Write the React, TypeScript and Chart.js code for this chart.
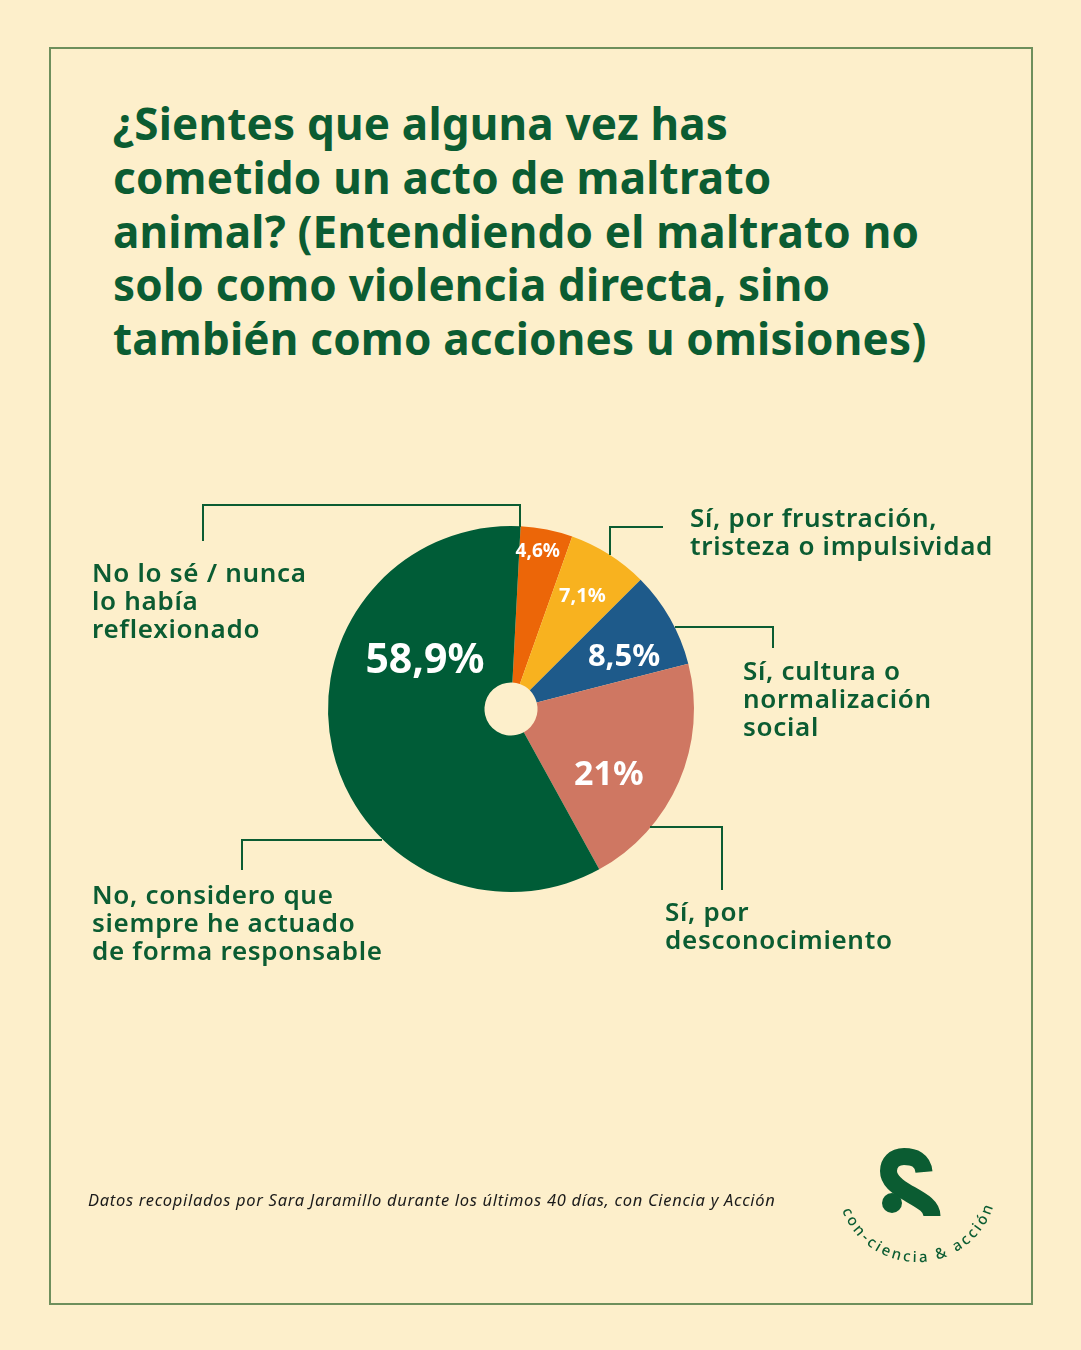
import React, { useEffect, useRef } from "react";
import { Chart, registerables } from "chart.js";

Chart.register(...registerables);

// Survey answers, in drawing order (clockwise from the top)
const categories: string[][] = [
  ["No lo sé / nunca", "lo había", "reflexionado"],
  ["Sí, por frustración,", "tristeza o impulsividad"],
  ["Sí, cultura o", "normalización", "social"],
  ["Sí, por", "desconocimiento"],
  ["No, considero que", "siempre he actuado", "de forma responsable"],
];

// Share of respondents (%)
const values: number[] = [4.6, 7.1, 8.5, 21, 58.9];

const sliceColors: string[] = ["#EC6608", "#F8B21F", "#1E5A8A", "#CF7762", "#005C37"];

const titleLines: string[] = [
  "¿Sientes que alguna vez has",
  "cometido un acto de maltrato",
  "animal? (Entendiendo el maltrato no",
  "solo como violencia directa, sino",
  "también como acciones u omisiones)",
];

const footnote =
  "Datos recopilados por Sara Jaramillo durante los últimos 40 días, con Ciencia y Acción";

const GREEN = "#0B5C32";
const BG = "#FDEFCB";

// Where each percentage sits inside its slice: fraction along the arc, fraction of the radius, font size
const valueLabelStyle = [
  { along: 0.4, radius: 0.875, size: 19 },
  { along: 0.5, radius: 0.73, size: 20 },
  { along: 0.66, radius: 0.68, size: 31 },
  { along: 0.64, radius: 0.645, size: 34 },
  { along: 0.698, radius: 0.538, size: 41 },
];

// Connector polylines, as offsets from the pie centre
const leaderPaths: number[][][] = [
  [[9, -182], [9, -204], [-308, -204], [-308, -168]],
  [[99, -154], [99, -182], [152, -182]],
  [[164, -82], [262, -82], [262, -61]],
  [[139, 118], [211, 118], [211, 181]],
  [[-129, 131], [-269, 131], [-269, 161]],
];

// Answer text blocks
const answerBoxes = [
  { left: 92, top: 558 },
  { left: 690, top: 503 },
  { left: 743, top: 656 },
  { left: 665, top: 897 },
  { left: 92, top: 880 },
];

const formatPct = (v: number) => `${String(v).replace(".", ",")}%`;

const leaderPlugin = {
  id: "leaders",
  afterDatasetsDraw(chart: any) {
    const arc = chart.getDatasetMeta(0).data[0];
    if (!arc) return;
    const { x, y } = arc.getProps(["x", "y"], true);
    const ctx = chart.ctx;
    ctx.save();
    ctx.strokeStyle = GREEN;
    ctx.lineWidth = 2;
    ctx.lineJoin = "miter";
    leaderPaths.forEach((pts) => {
      ctx.beginPath();
      pts.forEach(([dx, dy], i) => {
        if (i === 0) ctx.moveTo(x + dx, y + dy);
        else ctx.lineTo(x + dx, y + dy);
      });
      ctx.stroke();
    });
    ctx.restore();
  },
};

const valueLabelPlugin = {
  id: "valueLabels",
  afterDatasetsDraw(chart: any) {
    const meta = chart.getDatasetMeta(0);
    const ctx = chart.ctx;
    ctx.save();
    ctx.fillStyle = "#FFFFFF";
    ctx.textAlign = "center";
    ctx.textBaseline = "middle";
    meta.data.forEach((el: any, i: number) => {
      const p = el.getProps(["x", "y", "startAngle", "endAngle", "outerRadius"], true);
      const s = valueLabelStyle[i];
      const a = p.startAngle + s.along * (p.endAngle - p.startAngle);
      const r = s.radius * p.outerRadius;
      ctx.font = `700 ${s.size}px "Noto Sans", sans-serif`;
      ctx.fillText(formatPct(values[i]), p.x + Math.cos(a) * r, p.y + Math.sin(a) * r);
    });
    ctx.restore();
  },
};

function Logo() {
  const cx = 917;
  const cy = 1182;
  const r = 80;
  const pt = (deg: number) => {
    const t = (deg * Math.PI) / 180;
    return `${(cx + r * Math.cos(t)).toFixed(1)} ${(cy + r * Math.sin(t)).toFixed(1)}`;
  };
  const arcPath = `M ${pt(165)} A ${r} ${r} 0 0 0 ${pt(12)}`;
  return (
    <svg
      width={200}
      height={170}
      viewBox="820 1115 200 170"
      style={{ position: "absolute", left: 820, top: 1115 }}
    >
      <defs>
        <path id="logoArc" d={arcPath} fill="none" />
      </defs>
      <path
        d="M 924 1172 C 923 1160, 914 1156.5, 904 1156.5 C 894 1156.5, 888.5 1163, 888.5 1171 C 888.5 1180, 896 1186, 908 1193 C 922 1201, 932 1206, 932 1216"
        fill="none"
        stroke={GREEN}
        strokeWidth={17}
        strokeLinecap="butt"
      />
      <circle cx={892} cy={1203} r={10} fill={GREEN} />
      <text
        fill={GREEN}
        style={{ fontFamily: '"Noto Sans", sans-serif', fontSize: 15, fontWeight: 500 }}
      >
        <textPath href="#logoArc" startOffset="8" textLength="197" lengthAdjust="spacing">
          con-ciencia &amp; acción
        </textPath>
      </text>
    </svg>
  );
}

export default function App() {
  const canvasRef = useRef<HTMLCanvasElement>(null);

  useEffect(() => {
    const chart = new Chart(canvasRef.current as HTMLCanvasElement, {
      type: "doughnut",
      data: {
        labels: categories.map((c) => c.join(" ")),
        datasets: [
          {
            data: values,
            backgroundColor: sliceColors,
            borderWidth: 0,
            hoverOffset: 0,
          },
        ],
      },
      options: {
        responsive: false,
        animation: false,
        devicePixelRatio: 1,
        rotation: 3,
        cutout: "14.5%",
        events: [],
        layout: { padding: { left: 328, right: 387, top: 526, bottom: 458 } },
        plugins: {
          legend: { display: false },
          tooltip: { enabled: false },
        },
      },
      plugins: [leaderPlugin, valueLabelPlugin],
    } as any);
    return () => chart.destroy();
  }, []);

  return (
    <div
      style={{
        position: "fixed",
        left: 0,
        top: 0,
        width: 1081,
        height: 1350,
        background: BG,
        overflow: "hidden",
        fontFamily: '"Noto Sans", sans-serif',
      }}
    >
      <div
        style={{
          position: "absolute",
          left: 49,
          top: 47,
          width: 980,
          height: 1254,
          border: "2px solid #6E8F5C",
        }}
      />
      <div
        style={{
          position: "absolute",
          left: 113,
          top: 97,
          color: GREEN,
          fontSize: 44,
          fontWeight: 700,
          lineHeight: "53.75px",
          letterSpacing: 0.2,
          whiteSpace: "nowrap",
        }}
      >
        {titleLines.map((l, i) => (
          <div key={i}>{l}</div>
        ))}
      </div>

      <canvas
        ref={canvasRef}
        width={1081}
        height={1350}
        style={{ position: "absolute", left: 0, top: 0, width: 1081, height: 1350 }}
      />

      {categories.map((lines, i) => (
        <div
          key={i}
          style={{
            position: "absolute",
            left: answerBoxes[i].left,
            top: answerBoxes[i].top,
            color: GREEN,
            fontSize: 26,
            fontWeight: 600,
            lineHeight: "28px",
            letterSpacing: 0.7,
            whiteSpace: "nowrap",
          }}
        >
          {lines.map((l, j) => (
            <div key={j}>{l}</div>
          ))}
        </div>
      ))}

      <div
        style={{
          position: "absolute",
          left: 88,
          top: 1190,
          color: "#1B1B1B",
          fontSize: 16.5,
          fontStyle: "italic",
          fontWeight: 400,
          lineHeight: "20px",
          letterSpacing: 0.7,
          whiteSpace: "nowrap",
        }}
      >
        {footnote}
      </div>

      <Logo />
    </div>
  );
}
